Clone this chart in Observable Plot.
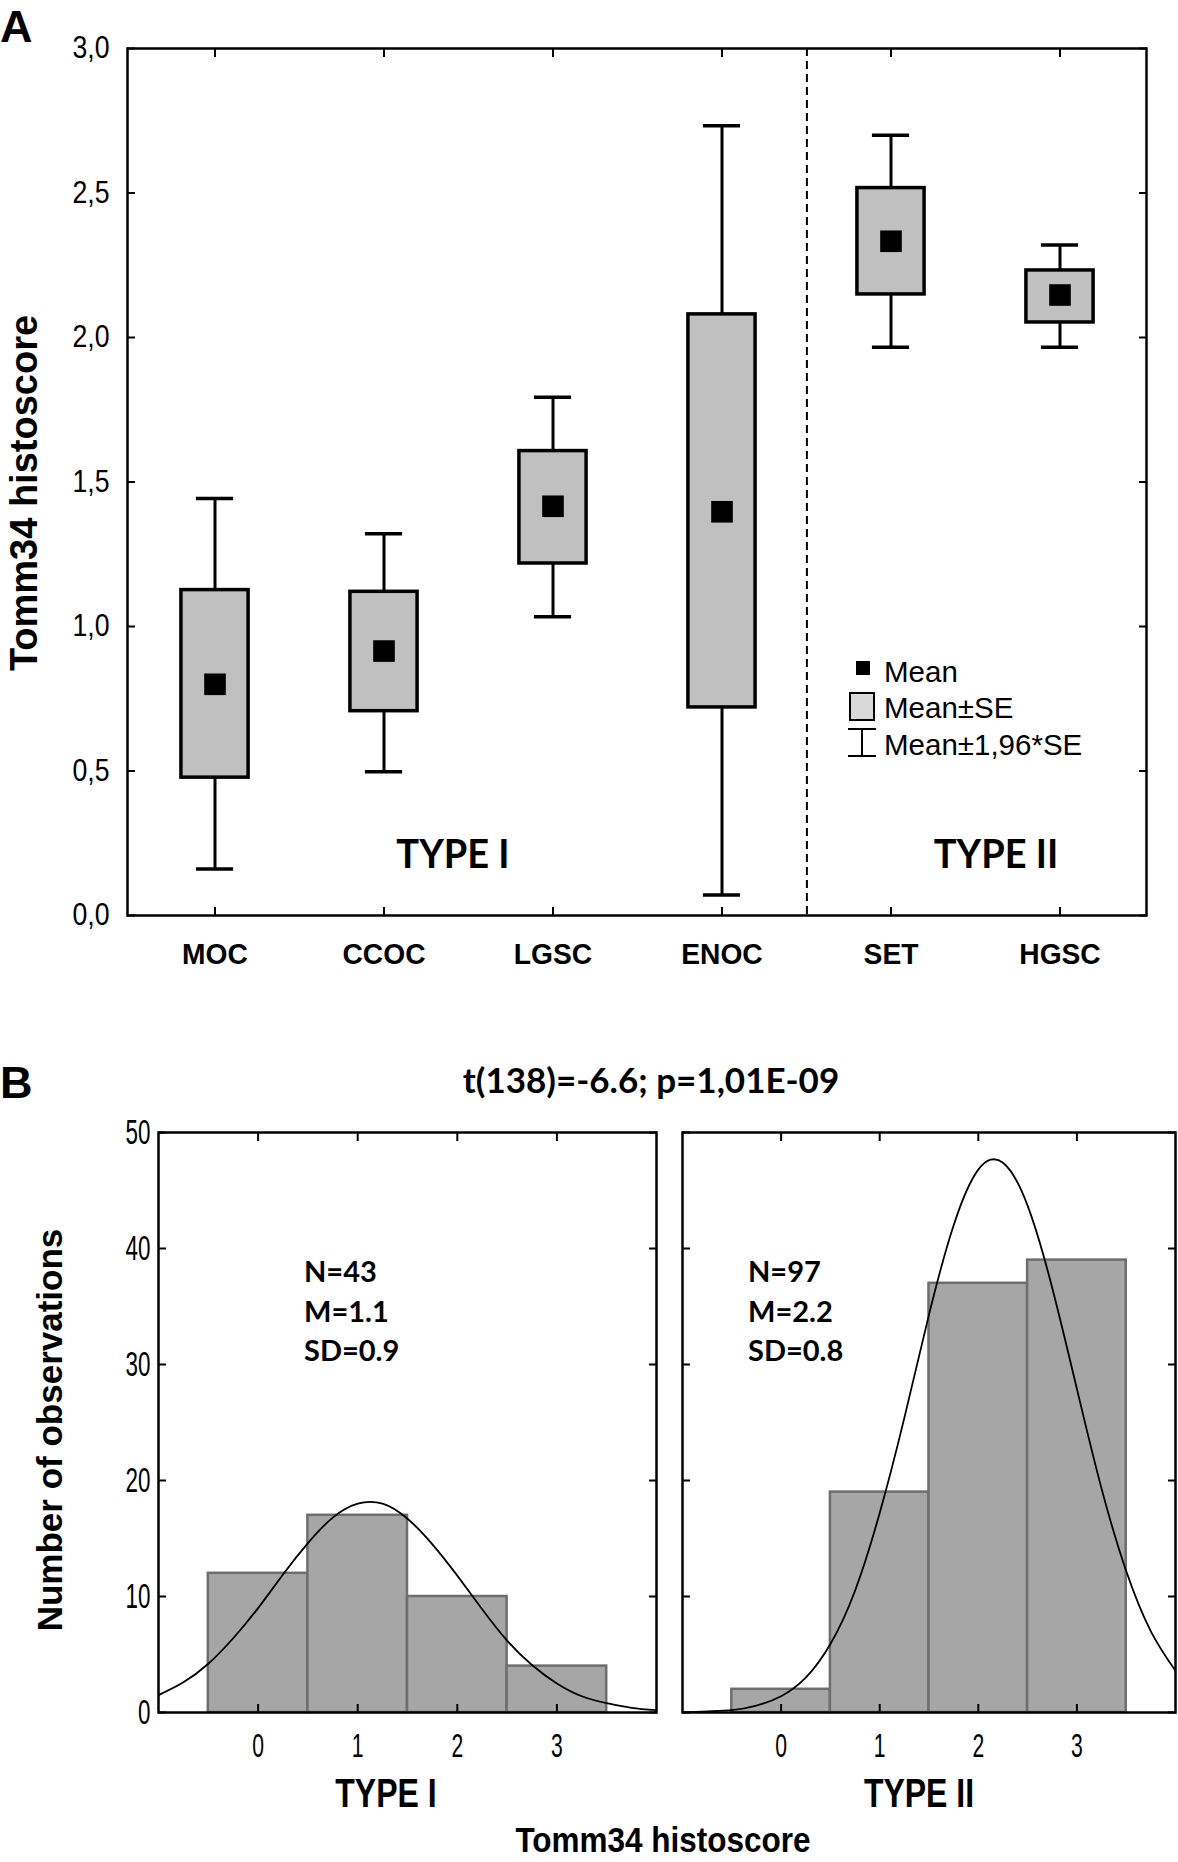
<!DOCTYPE html>
<html>
<head>
<meta charset="utf-8">
<script src="https://cdn.jsdelivr.net/npm/d3@7"></script>
<script src="https://cdn.jsdelivr.net/npm/@observablehq/plot@0.6"></script>
<style>
  html, body { margin: 0; padding: 0; background: #fff; }
  #root { position: relative; width: 1178px; height: 1862px; overflow: hidden; background: #fff; }
  #root > svg, #root > figure { position: absolute; margin: 0; }
</style>
</head>
<body>
<div id="root"></div>
<script>
// ---------------- DATA ----------------
// Panel A: Tomm34 histoscore by tumour subtype
const categories = ["MOC", "CCOC", "LGSC", "ENOC", "SET", "HGSC"];
const means      = [0.80, 0.915, 1.416, 1.397, 2.333, 2.147];
const seLow      = [0.477, 0.707, 1.218, 0.720, 2.149, 2.052];
const seHigh     = [1.126, 1.120, 1.607, 2.080, 2.517, 2.232];
const ciLow      = [0.161, 0.497, 1.034, 0.071, 1.966, 1.966];
const ciHigh     = [1.443, 1.321, 1.793, 2.733, 2.700, 2.320];
const yTicksA    = [0, 0.5, 1.0, 1.5, 2.0, 2.5, 3.0];

// Panel B: histograms
const scores      = [0, 1, 2, 3];
const type1Counts = [12, 17, 10, 4];
const type2Counts = [2, 19, 37, 39];
const yTicksB     = [0, 10, 20, 30, 40, 50];
// fitted normal curves
const curveX      = [-1, -0.75, -0.5, -0.25, 0, 0.25, 0.5, 0.75, 1, 1.25, 1.5, 1.75, 2, 2.25, 2.5, 2.75, 3, 3.25, 3.5, 3.75, 4];
const type1Curve  = [1.5, 2.6, 4.2, 6.4, 9.0, 11.9, 14.6, 16.8, 18.0, 18.0, 16.7, 14.5, 11.8, 8.9, 6.2, 4.1, 2.5, 1.4, 0.8, 0.4, 0.2];
const type2Curve  = [0.0, 0.1, 0.2, 0.6, 1.4, 3.0, 5.9, 10.5, 17.2, 25.4, 34.3, 42.0, 46.8, 47.4, 43.7, 36.6, 27.9, 19.3, 12.2, 7.0, 3.6];

// ---------------- STYLE ----------------
const SANS = '"Liberation Sans", Arial, Helvetica, sans-serif';
const CALI = 'Lato, "Open Sans", sans-serif';

const root = document.getElementById("root");
function place(el, left, top) {
  el.style.position = "absolute";
  el.style.left = left + "px";
  el.style.top = top + "px";
  root.appendChild(el);
  return el;
}
// horizontally condense the tick labels of a Plot axis (no narrow font installed)
function condense(svg, prefix, k) {
  svg.querySelectorAll(`g[aria-label^="${prefix}"] text`).forEach(el => {
    const t = el.getAttribute("transform") || "";
    const x = +(el.getAttribute("x") || 0);
    el.removeAttribute("x");
    el.setAttribute("transform", `${t} translate(${x},0) scale(${k},1)`);
  });
}

// ---------------- PANEL A ----------------
const boxData = categories.map((c, i) => ({
  cat: c, mean: means[i], seLow: seLow[i], seHigh: seHigh[i], ciLow: ciLow[i], ciHigh: ciHigh[i]
}));
const A = { width: 1178, height: 990, ml: 127, mr: 32, mt: 48, mb: 75 };
const band = (A.width - A.ml - A.mr) / categories.length;
const boxW = 68, capW = 38;

const plotA = Plot.plot({
  width: A.width, height: A.height,
  marginLeft: A.ml, marginRight: A.mr, marginTop: A.mt, marginBottom: A.mb,
  style: { fontFamily: SANS, background: "transparent", color: "#000", overflow: "visible" },
  x: { domain: categories, padding: 0 },
  y: { domain: [0, 3] },
  marks: [
    Plot.ruleX(["ENOC"], { dx: band / 2, stroke: "#000", strokeWidth: 2, strokeDasharray: "8,5" }),
    Plot.ruleX(boxData, { x: "cat", y1: "ciLow", y2: "ciHigh", stroke: "#000", strokeWidth: 3 }),
    Plot.tickY(boxData, { x: "cat", y: "ciLow", insetLeft: (band - capW) / 2, insetRight: (band - capW) / 2, stroke: "#000", strokeWidth: 3.5 }),
    Plot.tickY(boxData, { x: "cat", y: "ciHigh", insetLeft: (band - capW) / 2, insetRight: (band - capW) / 2, stroke: "#000", strokeWidth: 3.5 }),
    Plot.barY(boxData, { x: "cat", y1: "seLow", y2: "seHigh", fill: "#c0c0c0", stroke: "#000", strokeWidth: 3.5,
      insetLeft: (band - boxW) / 2, insetRight: (band - boxW) / 2 }),
    Plot.dot(boxData, { x: "cat", y: "mean", symbol: "square", r: 12.2, fill: "#000", stroke: "none" }),
    Plot.frame({ stroke: "#000", strokeWidth: 2.5 }),
    Plot.axisX({ anchor: "bottom", tickSize: -8, tickPadding: 35, fontSize: 30, fontWeight: "bold", label: null, strokeWidth: 2 }),
    Plot.axisX({ anchor: "top", tickSize: -8, tickFormat: () => "", label: null, strokeWidth: 2 }),
    Plot.axisY({ anchor: "left", ticks: yTicksA, tickSize: -8, tickPadding: 26, fontSize: 31,
      tickFormat: d => d.toFixed(1).replace(".", ","), label: null, strokeWidth: 2 }),
    Plot.axisY({ anchor: "right", ticks: yTicksA, tickSize: -8, tickFormat: () => "", label: null, strokeWidth: 2 })
  ]
});
condense(plotA, "x-axis tick label", 0.94);
condense(plotA, "y-axis tick label", 0.86);
place(plotA, 0, 0);

// ---------------- PANEL B ----------------
function histPlot(counts, curveY, cfg) {
  const hist = scores.map((s, i) => ({ score: s, count: counts[i] }));
  const curve = curveX.map((x, i) => ({ x, y: curveY[i] }));
  const svg = Plot.plot({
    width: cfg.width, height: 700,
    marginLeft: cfg.ml, marginRight: cfg.mr, marginTop: 32, marginBottom: 88,
    style: { fontFamily: SANS, background: "transparent", color: "#000", overflow: "visible" },
    x: { domain: [-1, 4] },
    y: { domain: [0, 50] },
    marks: [
      Plot.rectY(hist, { x1: d => d.score - 0.5, x2: d => d.score + 0.5, y1: 0, y2: "count",
        fill: "#a6a6a6", stroke: "#6e6e6e", strokeWidth: 2.5 }),
      Plot.line(curve, { x: "x", y: "y", curve: "natural", stroke: "#000", strokeWidth: 1.8, clip: true }),
      Plot.frame({ stroke: "#000", strokeWidth: 2.5 }),
      Plot.axisX({ anchor: "bottom", ticks: scores, tickSize: -8, tickPadding: 29, fontSize: 33,
        tickFormat: d => String(d), label: null, strokeWidth: 2 }),
      Plot.axisX({ anchor: "top", ticks: scores, tickSize: -8, tickFormat: () => "", label: null, strokeWidth: 2 }),
      Plot.axisY({ anchor: "left", ticks: yTicksB, tickSize: -8, tickPadding: 16, fontSize: 35,
        tickFormat: cfg.labels ? (d => String(d)) : (() => ""), label: null, strokeWidth: 2 }),
      Plot.axisY({ anchor: "right", ticks: yTicksB, tickSize: -8, tickFormat: () => "", label: null, strokeWidth: 2 })
    ]
  });
  condense(svg, "x-axis tick label", 0.64);
  condense(svg, "y-axis tick label", 0.64);
  return svg;
}
place(histPlot(type1Counts, type1Curve, { width: 668, ml: 158, mr: 12, labels: true }), 0, 1100);
place(histPlot(type2Counts, type2Curve, { width: 510, ml: 14, mr: 3, labels: false }), 668, 1100);

// ---------------- TEXT OVERLAY ----------------
const NS = "http://www.w3.org/2000/svg";
const ov = document.createElementNS(NS, "svg");
ov.setAttribute("width", 1178);
ov.setAttribute("height", 1862);
ov.style.pointerEvents = "none";
place(ov, 0, 0);
function txt(str, x, y, o = {}) {
  const t = document.createElementNS(NS, "text");
  t.textContent = str;
  t.setAttribute("x", 0);
  t.setAttribute("y", 0);
  t.setAttribute("font-family", o.family || SANS);
  t.setAttribute("font-size", o.size || 28);
  t.setAttribute("font-weight", o.weight || "normal");
  t.setAttribute("text-anchor", o.anchor || "start");
  t.setAttribute("fill", "#000");
  t.setAttribute("transform", `translate(${x},${y}) rotate(${o.rotate || 0}) scale(${o.sx || 1},1)`);
  ov.appendChild(t);
  return t;
}
function shape(tag, attrs) {
  const e = document.createElementNS(NS, tag);
  for (const k in attrs) e.setAttribute(k, attrs[k]);
  ov.appendChild(e);
  return e;
}

// panel letters
txt("A", 0, 42, { size: 45, weight: "bold" });
txt("B", 0, 1098, { size: 45, weight: "bold" });

// panel A titles
txt("Tomm34 histoscore", 37, 493, { size: 38, weight: "bold", anchor: "middle", rotate: -90 });
txt("TYPE I", 453, 868, { size: 40, weight: "bold", family: CALI, anchor: "middle", sx: 0.95 });
txt("TYPE II", 996, 868, { size: 40, weight: "bold", family: CALI, anchor: "middle", sx: 0.95 });

// panel A legend
shape("rect", { x: 856, y: 661, width: 14, height: 14, fill: "#000" });
txt("Mean", 884, 682, { size: 29.5 });
shape("rect", { x: 850, y: 693, width: 24, height: 27, fill: "#d9d9d9", stroke: "#000", "stroke-width": 2 });
txt("Mean\u00b1SE", 884, 718, { size: 29.5 });
shape("line", { x1: 848, x2: 876, y1: 729, y2: 729, stroke: "#000", "stroke-width": 2 });
shape("line", { x1: 848, x2: 876, y1: 756, y2: 756, stroke: "#000", "stroke-width": 2 });
shape("line", { x1: 862, x2: 862, y1: 729, y2: 756, stroke: "#000", "stroke-width": 2 });
txt("Mean\u00b11,96*SE", 884, 755, { size: 29.5 });

// panel B texts
txt("t(138)=-6.6; p=1,01E-09", 651, 1093, { size: 35, weight: "bold", family: CALI, anchor: "middle" });
["N=43", "M=1.1", "SD=0.9"].forEach((s, i) => txt(s, 304, 1282 + i * 39.5, { size: 29, weight: "bold", family: CALI }));
["N=97", "M=2.2", "SD=0.8"].forEach((s, i) => txt(s, 748, 1282 + i * 39.5, { size: 29, weight: "bold", family: CALI }));
txt("Number of observations", 62, 1430, { size: 35, weight: "bold", anchor: "middle", rotate: -90 });
txt("TYPE I", 386, 1807, { size: 40, weight: "bold", anchor: "middle", sx: 0.8 });
txt("TYPE II", 919, 1807, { size: 40, weight: "bold", anchor: "middle", sx: 0.8 });
txt("Tomm34 histoscore", 663, 1852, { size: 35, weight: "bold", anchor: "middle", sx: 0.9 });
</script>
</body>
</html>
